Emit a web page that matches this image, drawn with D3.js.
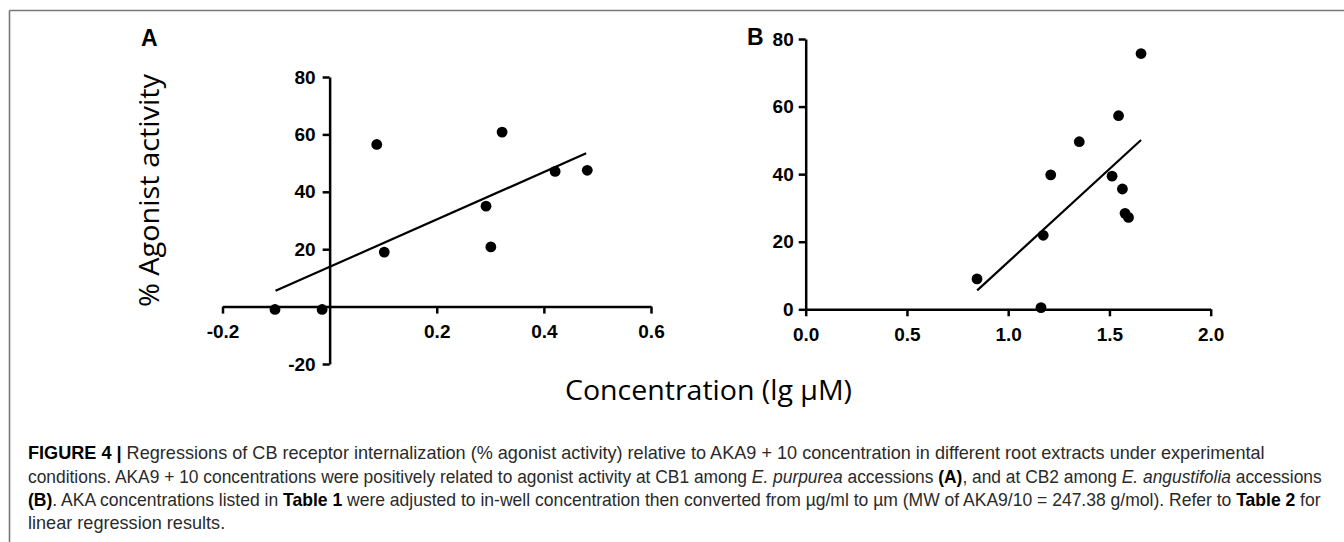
<!DOCTYPE html>
<html>
<head>
<meta charset="utf-8">
<script src="https://cdn.jsdelivr.net/npm/d3@7"></script>
<style>
  html, body { margin: 0; padding: 0; background: #fff; }
  svg { display: block; }
  .axis path, .axis line { stroke: #000; stroke-width: 2.5px; }
  .axis text { font-family: "Liberation Sans", Arial, sans-serif; font-weight: bold; font-size: 19px; fill: #000; }
</style>
</head>
<body>
<div id="chart"></div>
<script>
// Panel A: E. purpurea, CB1
const xA = [-0.102, -0.014, 0.088, 0.102, 0.292, 0.301, 0.322, 0.421, 0.481];
const yA = [-1, -1, 56.5, 19, 35, 20.8, 60.8, 47.1, 47.5];
const fitA = [[-0.101, 5.5], [0.479, 53.4]];
const xTicksA = [-0.2, 0.2, 0.4, 0.6];
const yTicksA = [-20, 20, 40, 60, 80];

// Panel B: E. angustifolia, CB2
const xB = [0.846, 1.162, 1.173, 1.21, 1.351, 1.513, 1.545, 1.564, 1.577, 1.594, 1.656];
const yB = [9.0, 0.5, 21.9, 39.8, 49.6, 39.4, 57.3, 35.6, 28.4, 27.2, 75.7];
const fitB = [[0.847, 5.6], [1.656, 50.1]];
const xTicksB = [0, 0.5, 1.0, 1.5, 2.0];
const yTicksB = [0, 20, 40, 60, 80];

// caption, one array per printed line: [text, style]
const caption = [
  [["FIGURE 4 | ", "b"], ["Regressions of CB receptor internalization (% agonist activity) relative to AKA9 + 10 concentration in different root extracts under experimental", ""]],
  [["conditions. AKA9 + 10 concentrations were positively related to agonist activity at CB1 among ", ""], ["E. purpurea", "i"], [" accessions ", ""], ["(A)", "b"], [", and at CB2 among ", ""], ["E. angustifolia", "i"], [" accessions", ""]],
  [["(B)", "b"], [". AKA concentrations listed in ", ""], ["Table 1", "b"], [" were adjusted to in-well concentration then converted from µg/ml to µm (MW of AKA9/10 = 247.38 g/mol). Refer to ", ""], ["Table 2", "b"], [" for", ""]],
  [["linear regression results.", ""]]
];

const W = 1344, H = 542;
const svg = d3.select("#chart").append("svg").attr("width", W).attr("height", H);

// Rahmen oben und links
svg.append("line").attr("x1", 9.5).attr("x2", W).attr("y1", 10.5).attr("y2", 10.5)
  .attr("stroke", "#777").attr("stroke-width", 1.6);
svg.append("line").attr("x1", 9.5).attr("x2", 9.5).attr("y1", 10.5).attr("y2", H)
  .attr("stroke", "#777").attr("stroke-width", 1.6);

function drawPanel(xs, ys, fit, xTicks, yTicks, xScale, yScale, xFmt, yPad) {
  const g = svg.append("g");

  g.append("g").attr("class", "axis")
    .attr("transform", `translate(0,${yScale(0)})`)
    .call(d3.axisBottom(xScale).tickValues(xTicks).tickSize(7).tickSizeOuter(0).tickPadding(11).tickFormat(xFmt));

  g.append("g").attr("class", "axis")
    .attr("transform", `translate(${xScale(0)},0)`)
    .call(d3.axisLeft(yScale).tickValues(yTicks).tickSize(7).tickSizeOuter(0).tickPadding(yPad).tickFormat(d => String(d)));

  // Regressionsgerade
  g.append("line")
    .attr("x1", xScale(fit[0][0])).attr("y1", yScale(fit[0][1]))
    .attr("x2", xScale(fit[1][0])).attr("y2", yScale(fit[1][1]))
    .attr("stroke", "#000").attr("stroke-width", 2.2);

  g.selectAll("circle")
    .data(xs.map((x, i) => [x, ys[i]]))
    .enter()
    .append("circle")
    .attr("cx", d => xScale(d[0]))
    .attr("cy", d => yScale(d[1]))
    .attr("r", 5.4)
    .attr("fill", "#000");
}

const xScaleA = d3.scaleLinear().domain([-0.2, 0.6]).range([222.5, 651]);
const yScaleA = d3.scaleLinear().domain([-20, 80]).range([364, 77]);
drawPanel(xA, yA, fitA, xTicksA, yTicksA, xScaleA, yScaleA, d => d.toFixed(1), 7);

const xScaleB = d3.scaleLinear().domain([0, 2]).range([805.7, 1210.7]);
const yScaleB = d3.scaleLinear().domain([0, 80]).range([309.3, 39]);
drawPanel(xB, yB, fitB, xTicksB, yTicksB, xScaleB, yScaleB, d => d.toFixed(1), 5);

// Panel-Buchstaben
svg.append("text").attr("x", 141).attr("y", 46).text("A")
  .style("font-family", "Liberation Sans, Arial, sans-serif").style("font-weight", "bold").style("font-size", "23px");
svg.append("text").attr("x", 747).attr("y", 45).text("B")
  .style("font-family", "Liberation Sans, Arial, sans-serif").style("font-weight", "bold").style("font-size", "23px");

// Achsentitel
svg.append("text")
  .attr("transform", "translate(159,190.5) rotate(-90)")
  .attr("text-anchor", "middle")
  .attr("textLength", 233).attr("lengthAdjust", "spacingAndGlyphs")
  .style("font-family", "Open Sans, sans-serif").style("font-size", "27px")
  .text("% Agonist activity");

svg.append("text")
  .attr("x", 565).attr("y", 400)
  .attr("textLength", 287).attr("lengthAdjust", "spacingAndGlyphs")
  .style("font-family", "Open Sans, sans-serif").style("font-size", "28px")
  .text("Concentration (lg µM)");

// Bildunterschrift, Zeilen auf Breite gestaucht
const capX = 28;
const capBase = [459, 482.5, 506, 529];
const capWidth = [1237, 1294, 1294, null];
let firstScale = 1;
caption.forEach((line, i) => {
  const t = svg.append("text")
    .attr("x", 0).attr("y", 0)
    .attr("xml:space", "preserve")
    .style("font-family", "Liberation Sans, Arial, sans-serif")
    .style("font-size", "18px")
    .style("fill", "#2a2a2a");
  line.forEach(seg => {
    const ts = t.append("tspan").text(seg[0]);
    if (seg[1] === "b") ts.style("font-weight", "bold").style("fill", "#000");
    if (seg[1] === "i") ts.style("font-style", "italic");
  });
  const w = t.node().getComputedTextLength();
  const s = capWidth[i] ? capWidth[i] / w : firstScale;
  if (i === 0) firstScale = s;
  t.attr("transform", `translate(${capX},${capBase[i]}) scale(${s},1)`);
});
</script>
</body>
</html>
